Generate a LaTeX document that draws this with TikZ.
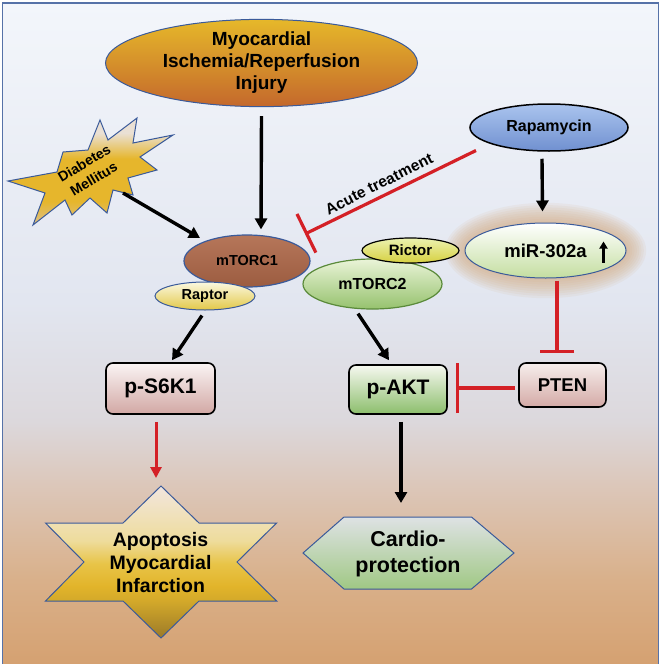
\documentclass[tikz,border=0pt]{standalone}
\usepackage{fontspec}
\setmainfont{Liberation Sans}
\usetikzlibrary{arrows.meta,shapes.geometric,calc}
\definecolor{bgA}{HTML}{D5A171}
\definecolor{bgB}{HTML}{D9B08A}
\definecolor{bgC}{HTML}{DCC8BC}
\definecolor{bgD}{HTML}{DCD8DC}
\definecolor{bgE}{HTML}{E2E6F0}
\definecolor{bgF}{HTML}{F3F6FB}
\definecolor{apA}{HTML}{9C7A28}
\definecolor{apB}{HTML}{D2A82A}
\definecolor{apC}{HTML}{E2B42A}
\definecolor{apD}{HTML}{E8C448}
\definecolor{apE}{HTML}{EEDC9C}
\definecolor{apF}{HTML}{F2E6DE}
\definecolor{dmA}{HTML}{DCC088}
\definecolor{dmB}{HTML}{E6B62C}
\definecolor{dmC}{HTML}{EAE0D4}
\definecolor{frameC}{HTML}{5672A8}
\definecolor{edgeB}{HTML}{3A5A9A}
\definecolor{inhred}{HTML}{D42026}
\definecolor{glowC}{HTML}{D2A576}
\pgfdeclareverticalshading{bgshade}{100bp}{color(0bp)=(bgA); color(25bp)=(bgA); color(31.3bp)=(bgB); color(38.85bp)=(bgC); color(43.35bp)=(bgD); color(52.4bp)=(bgE); color(75bp)=(bgF); color(100bp)=(bgF)}
\pgfdeclareverticalshading{apshade}{100bp}{color(0bp)=(apA); color(25bp)=(apA); color(37bp)=(apB); color(42bp)=(apC); color(49.5bp)=(apD); color(57bp)=(apE); color(75bp)=(apF); color(100bp)=(apF)}
\pgfdeclareverticalshading{dmshade}{100bp}{color(0bp)=(dmA); color(25bp)=(dmA); color(36bp)=(dmB); color(56bp)=(dmB); color(68bp)=(dmC); color(75bp)=(dmC); color(100bp)=(dmC)}
\tikzset{
  ell/.style={ellipse, inner sep=0pt, align=center, font=\bfseries},
  boxn/.style={rectangle, rounded corners=7pt, draw=black, line width=1.6pt, inner sep=0pt, font=\bfseries\fontsize{21}{24}\selectfont},
  arr/.style={line width=3.4pt, -{Triangle[length=11pt,width=12pt]}},
  redarr/.style={line width=3pt, draw=inhred, -{Triangle[length=11pt,width=11pt]}},
  inh/.style={line width=3.2pt, draw=inhred, -{Bar[width=#1]}},
  lbl/.style={font=\bfseries, align=center, inner sep=0pt}
}
\begin{document}
\begin{tikzpicture}[x=1pt,y=-1pt]
\useasboundingbox (0,0) rectangle (664,664);
\fill[white] (0,0) rectangle (664,664);
\shade[shading=bgshade] (2.5,3) rectangle (658.5,664);
\draw[frameC, line width=1.5pt] (2.5,664) -- (2.5,3) -- (658.5,3) -- (658.5,664);

% glow behind miR-302a
\foreach \i in {1,...,9}
  \fill[glowC, opacity=0.09] (545.5,250.5) ellipse ({80+2.3*\i} and {27+2.3*\i});

% Myocardial I/R injury
\node[ell, draw=edgeB, line width=1pt, top color={rgb,255:red,230;green,184;blue,42}, middle color={rgb,255:red,232;green,174;blue,108}, bottom color={rgb,255:red,196;green,104;blue,44}, minimum width=312pt, minimum height=80pt, font=\bfseries\fontsize{19}{22}\selectfont] (myo) at (261.5,63) {Myocardial\\Ischemia/Reperfusion\\Injury};

% Diabetes star
\shade[shading=dmshade, draw=edgeB, line width=1pt]
  (100,120) -- (108,140) -- (137,118) -- (133,143) -- (173,135) -- (140,157) -- (157,170) -- (128,178) -- (133,195) -- (113,190) -- (107,213) -- (90,198) -- (72,215) -- (65,200) -- (33,225) -- (45,193) -- (8,181) -- (57,172) -- (63,152) -- (88,150) -- cycle;
\node[lbl, rotate=30.7, font=\bfseries\fontsize{14}{18.5}\selectfont] (dm) at (89,171) {Diabetes\\Mellitus};

% Rapamycin
\node[ell, draw=black, line width=1.5pt, top color={rgb,255:red,170;green,196;blue,238}, bottom color={rgb,255:red,112;green,144;blue,208}, minimum width=158pt, minimum height=47pt, font=\bfseries\fontsize{16}{19}\selectfont] (rapa) at (549,127.5) {Rapamycin};

% miR-302a
\node[ell, draw=edgeB, line width=1pt, top color=white, bottom color={rgb,255:red,196;green,222;blue,160}, minimum width=161pt, minimum height=55pt, font=\bfseries\fontsize{18.5}{22}\selectfont] (mir) at (545.5,250.5) {miR-302a};
\draw[line width=2.6pt, -{Triangle[length=7pt,width=8pt]}] ($(mir.center)+(58,12)$) -- ($(mir.center)+(58,-9)$);

% mTORC2 and Rictor
\node[ell, draw={rgb,255:red,90;green,138;blue,58}, line width=1.2pt, top color={rgb,255:red,234;green,244;blue,216}, bottom color={rgb,255:red,150;green,194;blue,110}, minimum width=139pt, minimum height=50pt, font=\bfseries\fontsize{16}{19}\selectfont] (mtorc2) at (372.5,284) {mTORC2};
\node[ell, draw=black, line width=1.2pt, top color={rgb,255:red,236;green,242;blue,176}, bottom color={rgb,255:red,214;green,208;blue,64}, minimum width=97pt, minimum height=25pt, font=\bfseries\fontsize{15}{18}\selectfont] (rictor) at (410.5,250.5) {Rictor};

% mTORC1 and Raptor
\node[ell, draw=edgeB, line width=1.2pt, top color={rgb,255:red,182;green,118;blue,90}, bottom color={rgb,255:red,156;green,92;blue,64}, minimum width=126pt, minimum height=52pt, font=\bfseries\fontsize{14.5}{17}\selectfont] (mtorc1) at (247,261) {mTORC1};
\node[ell, draw=edgeB, line width=1pt, top color={rgb,255:red,251;green,248;blue,224}, bottom color={rgb,255:red,226;green,200;blue,72}, minimum width=100pt, minimum height=28pt, font=\bfseries\fontsize{14.5}{17}\selectfont] (raptor) at (205,296) {Raptor};

% boxes
\node[boxn, top color={rgb,255:red,250;green,244;blue,244}, bottom color={rgb,255:red,210;green,168;blue,164}, minimum width=109pt, minimum height=51pt] (ps6k) at (160.5,388.5) {p-S6K1};
\node[boxn, top color={rgb,255:red,246;green,248;blue,240}, bottom color={rgb,255:red,140;green,190;blue,108}, minimum width=98pt, minimum height=49pt] (pakt) at (398,389.5) {p-AKT};
\node[boxn, top color={rgb,255:red,246;green,238;blue,236}, bottom color={rgb,255:red,212;green,170;blue,166}, minimum width=87pt, minimum height=44pt, font=\bfseries\fontsize{18.5}{22}\selectfont] (pten) at (562.5,385) {PTEN};

% Apoptosis hexagram
\shade[shading=apshade, draw=edgeB, line width=1pt]
  (161,486) -- (199,523) -- (276.6,523) -- (237,562) -- (276.6,601) -- (199,601) -- (161,638) -- (123,601) -- (45.5,601) -- (84,562) -- (45.5,523) -- (123,523) -- cycle;
\node[lbl, font=\bfseries\fontsize{19.5}{23}\selectfont] (apop) at (160.5,563) {Apoptosis\\Myocardial\\Infarction};

% Cardio-protection hexagon
\shade[top color={rgb,255:red,222;green,226;blue,228}, middle color={rgb,255:red,200;green,220;blue,180}, bottom color={rgb,255:red,160;green,200;blue,132}, draw=edgeB, line width=1pt]
  (303,553) -- (344,517) -- (471.5,517) -- (514,553) -- (471.5,589) -- (344,589) -- cycle;
\node[lbl, font=\bfseries\fontsize{21.5}{25.5}\selectfont] (cardio) at (408,554) {Cardio-\\protection};

% connectors
\draw[arr] ($(myo.south)+(0,9)$) -- ($(mtorc1.north)+(14,-5)$);
\draw[arr] ($(dm)+(34,22)$) -- ($(mtorc1.center)+(-47,-23)$);
\draw[inh=43pt] ($(rapa.center)+(-73,23)$) -- ($(mtorc1.center)+(58,-27)$);
\node[lbl, rotate=26.5, font=\bfseries\fontsize{15.5}{18}\selectfont] (acute) at (379,184) {Acute treatment};
\draw[arr] ($(rapa.south)+(-7,7)$) -- ($(mir.north)+(-3,-11)$);
\draw[inh=34pt] ($(mir.south)+(11.5,2)$) -- ($(pten.north)+(-5.5,-9)$);
\draw[inh=50pt] ($(pten.west)+(-3,3)$) -- ($(pakt.east)+(8,-1.5)$);
\draw[arr] ($(mtorc2.south)+(-14.5,4)$) -- ($(pakt.north)+(-9,-4)$);
\draw[arr] ($(raptor.south)+(-3,5)$) -- ($(ps6k.north)+(11.5,-2)$);
\draw[redarr] ($(ps6k.south)+(-4.5,7)$) -- ($(apop)+(-4.5,-85)$);
\draw[arr] ($(pakt.south)+(3,7)$) -- ($(cardio)+(-7,-51)$);
\end{tikzpicture}
\end{document}
